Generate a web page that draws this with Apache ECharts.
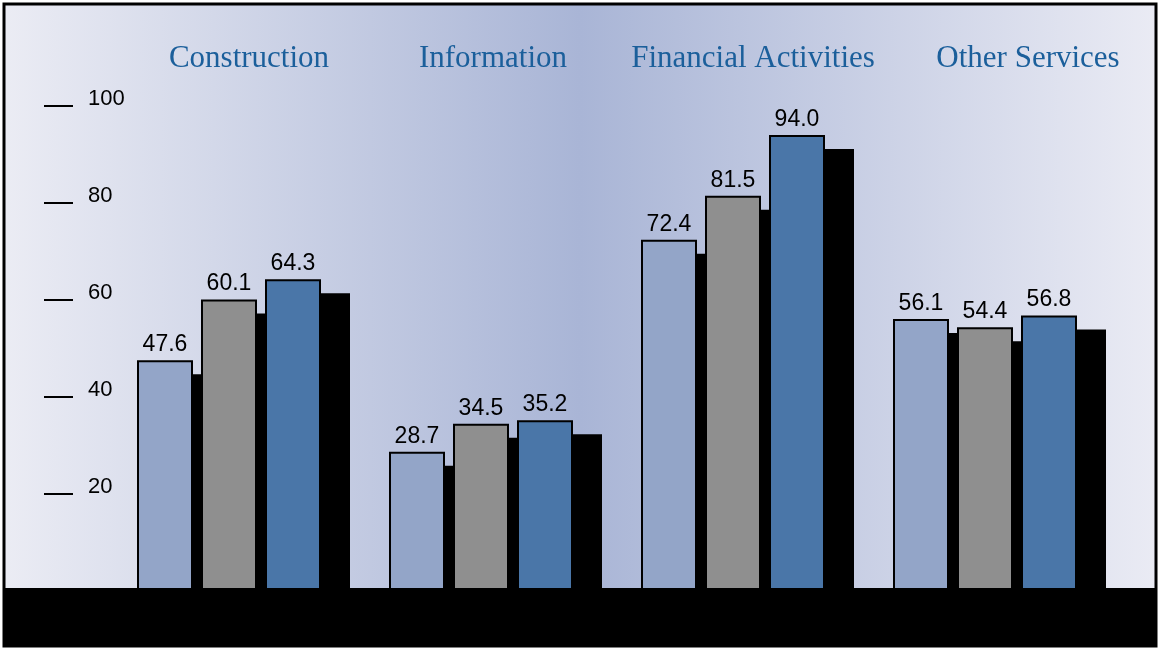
<!DOCTYPE html>
<html>
<head>
<meta charset="utf-8">
<script src="https://cdn.jsdelivr.net/npm/echarts@6/dist/echarts.min.js"></script>
<style>
  html, body { margin: 0; padding: 0; background: #fff; }
  #chart { width: 1159px; height: 650px; }
</style>
</head>
<body>
<div id="chart"></div>
<script>
const industries = ['Construction', 'Information', 'Financial Activities', 'Other Services'];
const seriesA = [47.6, 28.7, 72.4, 56.1];
const seriesB = [60.1, 34.5, 81.5, 54.4];
const seriesC = [64.3, 35.2, 94.0, 56.8];
const yTicks = [20, 40, 60, 80, 100];

const chartDom = document.getElementById('chart');
const myChart = echarts.init(chartDom);

const BAR_W = 56;
const BAR_GAP = 8;

const barLabel = {
    show: true,
    position: 'top',
    distance: 4,
    color: '#000',
    fontFamily: 'Liberation Sans',
    fontSize: 23,
    formatter: (p) => p.value.toFixed(1)
};

const makeSeries = (values, color) => ({
    type: 'bar',
    z: 3,
    data: values,
    barWidth: BAR_W,
    barGap: (BAR_GAP / BAR_W * 100) + '%',
    itemStyle: { color: color, borderColor: '#000', borderWidth: 2 },
    label: barLabel,
    emphasis: { disabled: true },
    animation: false
});

// black drop shadows, one per bar, from the same values
const shadowData = [];
[seriesA, seriesB, seriesC].forEach((vals, k) => {
    vals.forEach((v, i) => shadowData.push([i, v, k]));
});

const shadowSeries = {
    type: 'custom',
    z: 1,
    data: shadowData,
    encode: { x: 0, y: 1 },
    silent: true,
    animation: false,
    renderItem: (params, api) => {
        const top = api.coord([api.value(0), api.value(1)]);
        const base = api.coord([api.value(0), 0]);
        const k = api.value(2);
        const x = top[0] + (k - 1) * (BAR_W + BAR_GAP) - BAR_W / 2 + 29;
        return {
            type: 'rect',
            shape: { x: x, y: top[1] + 14, width: BAR_W, height: base[1] - top[1] + 20 },
            style: { fill: '#000' }
        };
    }
};

// small sideways nudges so the group titles sit like the original
const titleNudge = [40, 24, 40, 86];

const option = {
    backgroundColor: '#fff',
    grid: { left: 103, right: 48, top: 106, bottom: 59 },
    xAxis: {
        type: 'category',
        position: 'top',
        data: industries.map((name, i) => ({
            value: name,
            textStyle: { padding: [0, 0, 0, titleNudge[i]] }
        })),
        axisLine: { show: false },
        axisTick: { show: false },
        axisLabel: {
            margin: 32,
            color: '#1b5f9b',
            fontFamily: 'Liberation Serif',
            fontSize: 31,
            interval: 0
        }
    },
    yAxis: {
        type: 'value',
        min: 0,
        max: 100,
        interval: 20,
        offset: 30,
        splitLine: { show: false },
        axisLine: { show: false },
        axisTick: {
            show: true,
            length: 29,
            lineStyle: { color: '#000', width: 2 }
        },
        axisLabel: {
            inside: true,
            margin: 15,
            color: '#000',
            fontFamily: 'Liberation Sans',
            fontSize: 22,
            verticalAlign: 'bottom',
            lineHeight: 14,
            formatter: (v) => (yTicks.includes(v) ? String(v) : '')
        }
    },
    graphic: [
        {
            type: 'rect',
            z: -10,
            shape: { x: 4, y: 4, width: 1152, height: 642 },
            style: {
                fill: new echarts.graphic.LinearGradient(0, 0, 1, 0, [
                    { offset: 0, color: '#ebecf4' },
                    { offset: 0.5, color: '#a9b5d6' },
                    { offset: 1, color: '#eaebf4' }
                ])
            }
        },
        {
            type: 'rect',
            z: 100,
            shape: { x: 4, y: 588, width: 1152, height: 58 },
            style: { fill: '#000' }
        },
        {
            type: 'rect',
            z: 101,
            shape: { x: 4, y: 4, width: 1152, height: 642 },
            style: { fill: null, stroke: '#000', lineWidth: 3 }
        }
    ],
    series: [
        shadowSeries,
        makeSeries(seriesA, '#93a5c8'),
        makeSeries(seriesB, '#8f8f8f'),
        makeSeries(seriesC, '#4a76a8')
    ]
};

myChart.setOption(option);

window.addEventListener('resize', () => {
    myChart.resize();
});
</script>
</body>
</html>
